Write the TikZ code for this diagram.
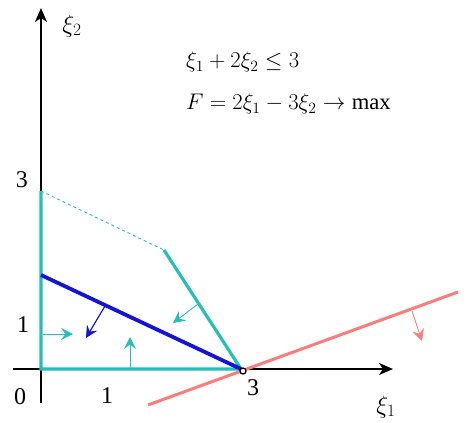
\documentclass[tikz,border=0pt]{standalone}
\usepackage{graphicx}
\usepackage{fontspec}
\setmainfont{Liberation Serif}
\usetikzlibrary{arrows.meta}
\definecolor{feas}{RGB}{38,190,185}
\definecolor{goal}{RGB}{20,20,215}
\definecolor{cut}{RGB}{250,125,120}
\newcommand{\bigeq}[1]{\scalebox{1.09}{$#1$}}

\begin{document}
\begin{tikzpicture}[x=1pt, y=-1pt,
    axis/.style={line width=1.8pt, -{Stealth[length=14pt,width=12pt,inset=4pt]}},
    bound/.style={draw=feas, line width=3.2pt},
    hint/.style={line width=0.9pt, -{Stealth[length=12pt,width=12pt,inset=4.5pt]}},
    lbl/.style={font=\fontsize{24}{28}\selectfont, inner sep=0pt},
    eq/.style={font=\fontsize{20.74}{25}\selectfont, inner sep=0pt, anchor=west},
  ]
  \useasboundingbox (0,0) rectangle (466,423);
  % axes
  \coordinate (xs) at (13,369);
  \coordinate (xe) at (393,369);
  \coordinate (ys) at (41,403);
  \coordinate (ye) at (41,8);
  \draw[axis] (xs) -- (xe);
  \draw[axis] (ys) -- (ye);
  \node[lbl] (xi2) at (72,26) {$\xi_2$};
  \node[lbl] (xi1) at (386,407) {$\xi_1$};
  \node[lbl] (zero) at (20,397) {0};
  \node[lbl] (xone) at (107,396) {1};
  \node[lbl] (xthree) at (253,388) {3};
  \node[lbl] (yone) at (23,325) {1};
  \node[lbl] (ythree) at (22,180) {3};
  % corner points
  \coordinate (O) at (41,369);
  \coordinate (A) at (241,369);
  \coordinate (B) at (164,250);
  \coordinate (C) at (41,191);
  \coordinate (P) at (41,275);
  % level line of F
  \coordinate (r1) at (148,405);
  \coordinate (r2) at (458,292);
  \draw[cut, line width=3pt] (r1) -- (r2);
  % feasible region
  \draw[feas, line width=0.9pt, dash pattern=on 3pt off 3pt] (C) -- (B);
  \draw[bound, line join=miter] (C) -- (O) -- (A) -- (B);
  \draw[goal, line width=3.8pt] (P) -- (A);
  % direction arrows
  \coordinate (h1) at (43,334);  \coordinate (h2) at (73,334);
  \coordinate (v1) at (130,369); \coordinate (v2) at (130,337);
  \coordinate (s1) at (198,304); \coordinate (s2) at (173,323);
  \coordinate (b1) at (105,306); \coordinate (b2) at (86,338);
  \coordinate (c1) at (412,311); \coordinate (c2) at (422,341);
  \draw[hint, feas] (h1) -- (h2);
  \draw[hint, feas] (v1) -- (v2);
  \draw[hint, feas] (s1) -- (s2);
  \draw[hint, goal, line width=1.2pt] (b1) -- (b2);
  \draw[hint, cut] (c1) -- (c2);
  \node[circle, draw, line width=1.3pt, fill=white, inner sep=0pt, minimum size=6pt] (opt) at (243,371) {};
  % problem statement
  \node[eq] (cons) at (186,62) {\bigeq{\xi_1+2\xi_2\le 3}};
  \node[eq] (obj) at (186,104) {\bigeq{F=2\xi_1-3\xi_2\to\max}};
\end{tikzpicture}
\end{document}
